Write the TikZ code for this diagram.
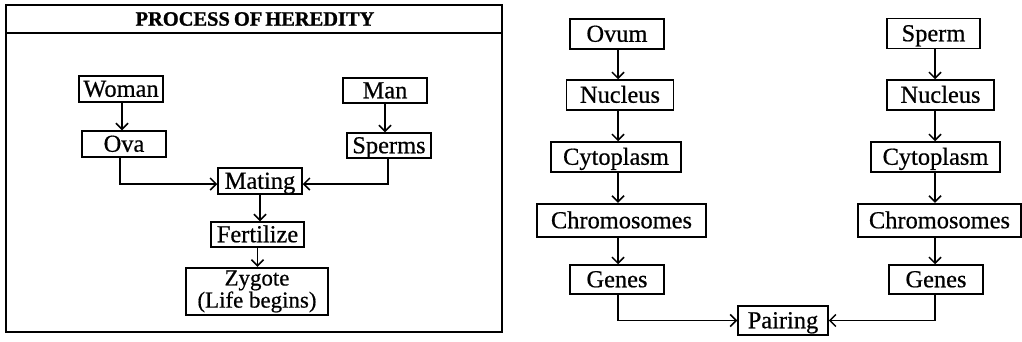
\documentclass[tikz,border=0pt]{standalone}
\usepackage{fontspec}
\setmainfont{Liberation Serif}
\newfontfamily\heavy[FakeBold=0.6]{Liberation Serif}
\newfontfamily\heavybf[FakeBold=1.2]{Liberation Serif Bold}
\usetikzlibrary{arrows.meta}
\begin{document}
\begin{tikzpicture}[x=1bp,y=-1bp,
  box/.style={draw=black,line width=1.5bp,inner sep=0pt,align=center,text height=15.5bp,text depth=0bp,font=\heavy\fontsize{24.5}{22}\selectfont},
  thickbox/.style={box,line width=2.4bp},
  arr/.style={line width=1.5bp,-{Straight Barb[length=6bp,width=12bp,line width=1.5bp]}}]
\useasboundingbox (0,0) rectangle (1022,341);
% left panel frame
\draw[line width=1.6bp] (6,5) rectangle (502,332);
\draw[line width=1.6bp] (6,33) -- (502,33);
\node[font=\heavybf\fontsize{20.5}{22}\selectfont,inner sep=0pt] (title) at (255,19) {PROCESS\kern-1pt\ OF\kern-2pt\ HEREDITY};
% left nodes
\node[box,minimum width=84bp,minimum height=26bp] (woman) at (121,89) {Woman};
\node[box,minimum width=84bp,minimum height=26bp] (ova) at (124,144) {Ova};
\node[box,minimum width=84bp,minimum height=25bp] (man) at (385,90.5) {Man};
\node[box,minimum width=84bp,minimum height=25bp] (sperms) at (389,145.5) {Sperms};
\node[box,minimum width=84bp,minimum height=26bp] (mating) at (260,181) {Mating};
\node[box,minimum width=93bp,minimum height=25bp] (fert) at (257.5,234.5) {Fertilize};
\node[thickbox,minimum width=142bp,minimum height=47bp,text height=,text depth=,font=\heavy\fontsize{23}{20}\selectfont] (zyg) at (257,291.5) {Zygote\\(Life begins)};
\draw[arr] ([xshift=1bp]woman.south) -- ([xshift=1bp]woman.south |- ova.north);
\draw[arr] (man.south) -- (man.south |- sperms.north);
\draw[arr] ([xshift=-4bp]ova.south) |- ([yshift=-3bp]mating.west);
\draw[arr] ([xshift=-1bp]sperms.south) |- ([yshift=-3bp]mating.east);
\draw[arr] (mating.south) -- (mating.south |- fert.north);
\draw[arr] (fert.south) -- (fert.south |- zyg.north);
% right panel
\node[box,minimum width=94bp,minimum height=30bp] (ovum) at (617,34) {Ovum};
\node[box,minimum width=107bp,minimum height=30bp] (nucL) at (620,95) {Nucleus};
\node[box,minimum width=130bp,minimum height=30bp] (cytL) at (616,157) {Cytoplasm};
\node[thickbox,minimum width=169bp,minimum height=33bp] (chrL) at (621.5,220.5) {Chromosomes};
\node[box,minimum width=94bp,minimum height=29bp] (genL) at (617,279.5) {Genes};
\node[box,minimum width=93bp,minimum height=30bp] (sperm) at (933.5,33.5) {Sperm};
\node[box,minimum width=107bp,minimum height=30bp] (nucR) at (940.5,95) {Nucleus};
\node[box,minimum width=129bp,minimum height=30bp] (cytR) at (935.5,157) {Cytoplasm};
\node[thickbox,minimum width=163bp,minimum height=33bp] (chrR) at (939.5,220.5) {Chromosomes};
\node[box,minimum width=94bp,minimum height=29bp] (genR) at (936,279.5) {Genes};
\node[box,minimum width=90bp,minimum height=29bp] (pair) at (783,320.5) {Pairing};
\coordinate (lx) at (618,0);
\coordinate (rx) at (935,0);
\draw[arr] (ovum.south -| lx) -- (nucL.north -| lx);
\draw[arr] (nucL.south -| lx) -- (cytL.north -| lx);
\draw[arr] (cytL.south -| lx) -- (chrL.north -| lx);
\draw[arr] (chrL.south -| lx) -- (genL.north -| lx);
\draw[arr] (sperm.south -| rx) -- (nucR.north -| rx);
\draw[arr] (nucR.south -| rx) -- (cytR.north -| rx);
\draw[arr] (cytR.south -| rx) -- (chrR.north -| rx);
\draw[arr] (chrR.south -| rx) -- (genR.north -| rx);
\draw[arr] (genL.south -| lx) |- (pair.west);
\draw[arr] (genR.south -| rx) |- (pair.east);
\end{tikzpicture}
\end{document}
